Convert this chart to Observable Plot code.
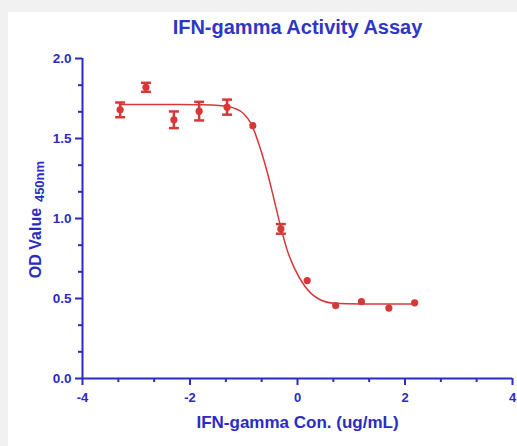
<!DOCTYPE html>
<html><head><meta charset="utf-8">
<script src="https://cdn.jsdelivr.net/npm/d3@7"></script>
<script src="https://cdn.jsdelivr.net/npm/@observablehq/plot@0.6"></script>
<style>
html,body{margin:0;padding:0;background:#f1f1f1;}
#chart{position:absolute;left:8px;top:12px;width:509px;height:434px;background:#fff;}
</style></head><body><div id="chart"></div>
<script>
// Data
const logConc = [-3.30, -2.82, -2.30, -1.83, -1.31, -0.83, -0.31, 0.18, 0.71, 1.19, 1.70, 2.18];
const odMean  = [1.679, 1.82, 1.617, 1.671, 1.696, 1.58, 0.935, 0.612, 0.456, 0.48, 0.44, 0.473];
const odErr   = [0.046, 0.028, 0.052, 0.058, 0.047, 0, 0.03, 0, 0, 0, 0, 0];
// fitted curve
const curveX = [-3.30, -2.5, -1.8, -1.4, -1.18, -1.0, -0.866, -0.68, -0.555, -0.43, -0.306, -0.18, -0.058, 0.13, 0.38, 0.69, 1.2, 2.18];
const curveY = [1.712, 1.712, 1.711, 1.705, 1.69, 1.655, 1.594, 1.425, 1.28, 1.11, 0.94, 0.79, 0.69, 0.58, 0.50, 0.47, 0.466, 0.465];
const xTicks = [-4, -2, 0, 2, 4];
const xMinorTicks = [-3.333, -2.667, -1.333, -0.667, 0.667, 1.333, 2.667, 3.333];
const yTicks = [0, 0.5, 1.0, 1.5, 2.0];
const yMinorTicks = [0.1667, 0.3333, 0.6667, 0.8333, 1.1667, 1.3333, 1.6667, 1.8333];
const titleText = "IFN-gamma Activity Assay";
const xLabel = "IFN-gamma Con. (ug/mL)";
const yLabel = "OD Value";
const yLabelSub = "450nm";

const blue = "#2b2bc4";
const titleBlue = "#3036c4";
const red = "#d63838";

const points = logConc.map((x, i) => ({x, y: odMean[i], e: odErr[i]}));
const bars = points.filter(d => d.e > 0);
const caps = bars.flatMap(d => [{x: d.x, y: d.y - d.e}, {x: d.x, y: d.y + d.e}]);
const curve = curveX.map((x, i) => ({x, y: curveY[i]}));

const hline = {draw(context, size) { const w = 5; context.moveTo(-w, 0); context.lineTo(w, 0); }};

const chart = Plot.plot({
  width: 509, height: 434,
  marginLeft: 74, marginTop: 46, marginRight: 5, marginBottom: 68,
  x: {domain: [-4, 4]},
  y: {domain: [0, 2]},
  style: {fontFamily: "'Liberation Sans', Arial, sans-serif", fontWeight: "bold", background: "transparent", overflow: "visible"},
  marks: [
    Plot.axisX({ticks: xTicks, tickSize: 7, tickPadding: 7, tickFormat: d => String(d), fontSize: 13, color: blue, strokeWidth: 2, label: null}),
    Plot.axisX({ticks: xMinorTicks, tickSize: 4, tickFormat: () => "", color: blue, strokeWidth: 2, label: null}),
    Plot.axisY({ticks: yTicks, tickSize: 7, tickPadding: 4, tickFormat: d => d.toFixed(1), fontSize: 13.5, color: blue, strokeWidth: 2, label: null}),
    Plot.axisY({ticks: yMinorTicks, tickSize: 4, tickFormat: () => "", color: blue, strokeWidth: 2, label: null}),
    Plot.ruleX([-4], {stroke: blue, strokeWidth: 2}),
    Plot.ruleY([0], {stroke: blue, strokeWidth: 2}),
    Plot.line(curve, {x: "x", y: "y", stroke: red, strokeWidth: 1.5, curve: "monotone-x"}),
    Plot.ruleX(bars, {x: "x", y1: d => d.y - d.e, y2: d => d.y + d.e, stroke: red, strokeWidth: 2.5}),
    Plot.dot(caps, {x: "x", y: "y", symbol: hline, r: 4, stroke: red, strokeWidth: 2.5}),
    Plot.dot(points, {x: "x", y: "y", r: 3.6, fill: red}),
    Plot.text([titleText], {text: d => d, frameAnchor: "top", dy: -31, lineAnchor: "middle", textAnchor: "middle", fontSize: 20, fontWeight: "bold", fill: titleBlue}),
    Plot.text([xLabel], {text: d => d, frameAnchor: "bottom", dy: 44, lineAnchor: "middle", textAnchor: "middle", fontSize: 17, fontWeight: "bold", fill: blue}),
    Plot.text([yLabel], {text: d => d, frameAnchor: "left", dx: -47, dy: 24.5, rotate: -90, lineAnchor: "middle", textAnchor: "middle", fontSize: 16, fontWeight: "bold", fill: blue}),
    Plot.text([yLabelSub], {text: d => d, frameAnchor: "left", dx: -43, dy: -37, rotate: -90, lineAnchor: "middle", textAnchor: "middle", fontSize: 13, fontWeight: "bold", fill: blue})
  ]
});
document.getElementById("chart").appendChild(chart);
</script></body></html>
